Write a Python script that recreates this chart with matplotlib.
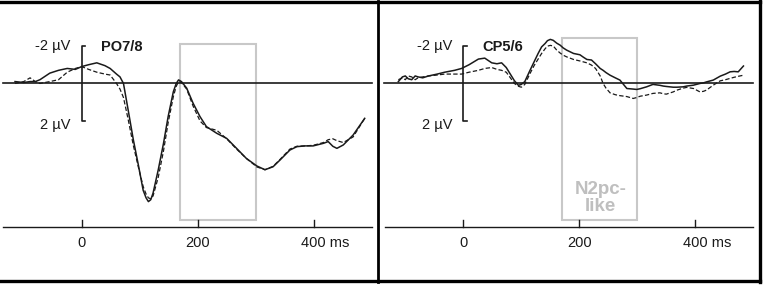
import matplotlib
matplotlib.use("Agg")
import matplotlib.pyplot as plt
from matplotlib.patches import Rectangle

plt.rcParams["font.family"] = ["Liberation Sans", "DejaVu Sans"]

# ── data (ms, µV; negative plotted upward) ────────────────────────────────────
po_t = [-115, -100, -89, -80, -72, -55, -40, -25, -11, 0,
        12, 26, 40, 49, 60, 66, 72, 80, 89, 98,
        106, 111, 115, 119, 123, 132, 141, 149, 158, 163,
        167, 172, 181, 192, 204, 215, 233, 250, 267, 284,
        302, 316, 330, 342, 359, 371, 385, 399, 417, 425,
        433, 440, 451, 468, 488]
po_solid = [-0.1, -0.05, -0.1, -0.1, -0.2, -0.55, -0.7, -0.8, -0.75, -0.9,
            -1.0, -1.1, -0.95, -0.8, -0.5, -0.35, 0.0, 1.4, 3.0, 4.4,
            5.7, 6.1, 6.3, 6.2, 5.85, 4.6, 3.2, 1.77, 0.44, 0.0,
            -0.19, -0.1, 0.25, 1.05, 1.77, 2.3, 2.66, 2.93, 3.46, 4.0,
            4.4, 4.6, 4.44, 4.08, 3.55, 3.37, 3.33, 3.33, 3.19, 3.1,
            3.35, 3.46, 3.28, 2.75, 1.86]
po_dashed = [0.0, -0.1, -0.3, -0.1, 0.0, -0.1, -0.2, -0.6, -0.8, -0.9,
             -0.75, -0.6, -0.5, -0.45, 0.0, 0.3, 0.75, 1.9, 3.3, 4.5,
             5.5, 5.9, 6.1, 6.15, 6.0, 5.0, 3.6, 2.1, 0.7, 0.15,
             -0.1, -0.05, 0.3, 1.2, 2.0, 2.35, 2.5, 2.95, 3.5, 4.0,
             4.45, 4.6, 4.42, 4.05, 3.5, 3.35, 3.33, 3.3, 3.15, 3.0,
             2.95, 3.05, 3.15, 2.85, 1.86]

cp_t = [-112, -105, -100, -95, -89, -83, -78, -70, -60, -45, -32, -15,
        -3, 10, 26, 37, 49, 58, 66, 74, 80, 88, 95, 100,
        106, 115, 122, 129, 135, 141, 145, 150, 155, 161, 167, 172, 178, 190,
        201, 207, 213, 221, 228, 236, 241, 246, 253, 262, 270, 282, 293, 299,
        305, 316, 327, 339, 345, 350, 362, 368, 379, 385, 397, 408, 414, 419,
        431, 443, 452, 460, 467, 474, 483]
cp_solid = [-0.1, -0.35, -0.4, -0.25, -0.2, -0.4, -0.35, -0.3, -0.4, -0.5,
            -0.6, -0.7, -0.8, -1.0, -1.3, -1.35, -1.1, -1.05, -1.1, -0.85,
            -0.55, -0.15, 0.1, 0.05,
            -0.1, -0.7, -1.15, -1.6, -1.95, -2.13, -2.28, -2.35, -2.3, -2.15,
            -2.04, -1.9, -1.78, -1.6, -1.53, -1.4, -1.28, -1.25, -1.05, -0.8,
            -0.7, -0.58, -0.44, -0.3, -0.18, 0.27, 0.3, 0.32, 0.28, 0.18,
            0.05, 0.1, 0.14, 0.16, 0.2, 0.2, 0.18, 0.14, 0.09, 0.0,
            -0.03, -0.08, -0.18, -0.39, -0.5, -0.62, -0.64, -0.62, -0.93]
cp_dashed = [-0.2, -0.3, -0.2, -0.4, -0.35, -0.2, -0.3, -0.35, -0.4, -0.45,
             -0.5, -0.5, -0.5, -0.6, -0.7, -0.8, -0.85, -0.75, -0.7, -0.6,
             -0.35, 0.0, 0.15, 0.2,
             0.05, -0.53, -0.95, -1.3, -1.6, -1.85, -1.99, -2.03, -2.0, -1.78,
             -1.62, -1.51, -1.42, -1.28, -1.2, -1.15, -1.1, -0.98, -0.8, -0.4,
             0.0, 0.25, 0.5, 0.6, 0.65, 0.7, 0.8, 0.75, 0.68, 0.62,
             0.53, 0.5, 0.55, 0.57, 0.45, 0.36, 0.25, 0.21, 0.27, 0.45,
             0.42, 0.36, 0.09, -0.14, -0.2, -0.27, -0.33, -0.38, -0.44]

x_ticks = [0, 200, 400]
tick_labels = ["0", "200", "400 ms"]
window = (170, 300)          # N2pc-like analysis window (ms)

INK = "#1a1a1a"
BOX = "#c8c8c8"
FS = 10.5

fig = plt.figure(figsize=(7.75, 2.86), dpi=100)
fig.patch.set_facecolor("white")


def draw_panel(ax, t, solid, dashed, name, xlim, box_top, note=None):
    ax.set_xlim(*xlim)
    ax.set_ylim(10.8, -4.45)
    ax.axis("off")

    # analysis window
    ax.add_patch(Rectangle((window[0], box_top), window[1] - window[0],
                           7.3 - box_top, fill=False, ec=BOX, lw=1.5, zorder=1))
    if note:
        ax.text(sum(window) / 2 + 2, 6.1, note, color="#bfbfbf", fontsize=13.5,
                fontweight="bold", ha="center", va="center", linespacing=1.0)

    # baseline + x axis
    ax.plot([-136, 500], [0, 0], color=INK, lw=1.2, zorder=2)
    ax.plot([-135, 500], [7.65, 7.65], color=INK, lw=1.0, zorder=2)
    for xt, lab in zip(x_ticks, tick_labels):
        ax.plot([xt, xt], [7.65, 7.3], color=INK, lw=1.0)
        if lab.endswith("ms"):
            ax.annotate(lab, xy=(xt, 8.5), xytext=(-9, 0),
                        textcoords="offset points", ha="left", va="center",
                        fontsize=FS, color=INK)
        else:
            ax.text(xt, 8.5, lab, ha="center", va="center", fontsize=FS,
                    color=INK)

    # µV scale bar
    ax.plot([6, 0, 0, 6], [-2, -2, 2, 2], color=INK, lw=1.2)
    ax.text(-19, -2.0, "-2 µV", ha="right", va="center", fontsize=FS, color=INK)
    ax.text(-19, 2.2, "2 µV", ha="right", va="center", fontsize=FS, color=INK)
    ax.text(33, -1.95, name, ha="left", va="center", fontsize=FS,
            fontweight="bold", color=INK)

    # waveforms
    ax.plot(t, dashed, color=INK, lw=0.9, ls=(0, (3.5, 1.8)), zorder=3)
    ax.plot(t, solid, color=INK, lw=1.1, zorder=4)


ax_l = fig.add_axes([0, 0, 378 / 775, 1])
draw_panel(ax_l, po_t, po_solid, po_dashed, "PO7/8", (-140.9, 510.9), -2.1)

ax_r = fig.add_axes([378 / 775, 0, 1 - 378 / 775, 1])
draw_panel(ax_r, cp_t, cp_solid, cp_dashed, "CP5/6", (-147.1, 537.4), -2.45,
           note="N2pc-\nlike")

# ── panel frame ───────────────────────────────────────────────────────────────
frame = fig.add_axes([0, 0, 1, 1], zorder=10)
frame.set_xlim(0, 775)
frame.set_ylim(286, 0)
frame.axis("off")
frame.patch.set_alpha(0)
frame.plot([0, 760], [1.5, 1.5], color="black", lw=2.4)
frame.plot([0, 760], [280.5, 280.5], color="black", lw=2.4)
frame.plot([759.5, 759.5], [0.5, 281.5], color="black", lw=2.4)
frame.plot([378, 378], [0.5, 281.5], color="black", lw=2.0)

fig.savefig("out.png", dpi=100, facecolor="white")
